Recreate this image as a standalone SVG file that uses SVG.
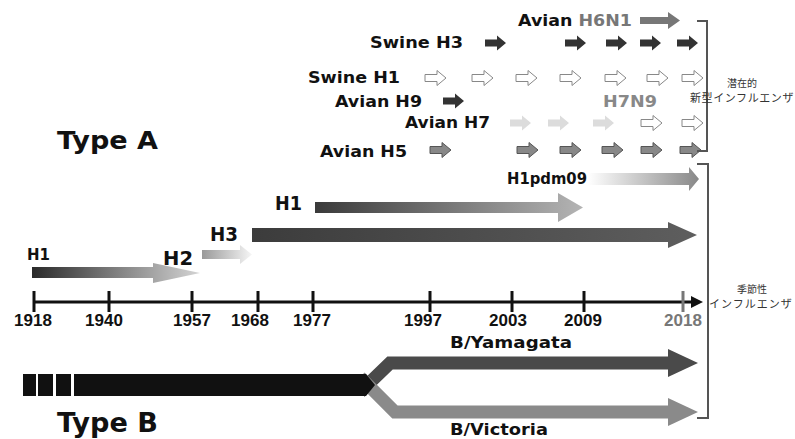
<svg xmlns="http://www.w3.org/2000/svg" xmlns:xlink="http://www.w3.org/1999/xlink" width="795" height="439" viewBox="0 0 795 439">
<style>
.lb{font-family:"DejaVu Sans","Liberation Sans",sans-serif;font-weight:bold;fill:#111}
.yr{font-family:"Liberation Sans",Arial,sans-serif;font-weight:bold;font-size:17px;fill:#111;text-anchor:middle}
.jp{font-family:"Noto Sans CJK JP","Noto Sans CJK SC",sans-serif;fill:#333}
.dk{fill:#333}
.ol{fill:#fff;stroke:#888;stroke-width:1}
.lt{fill:#dcdcdc}
.md{fill:#888;stroke:#555;stroke-width:1}
.br{fill:none;stroke:#555;stroke-width:2}
</style>
<defs>
<path id="sa" d="M0,-3.5 H12 V-7.5 L21,0 L12,7.5 V3.5 H0 Z"/>
<linearGradient id="g1"><stop offset="0" stop-color="#2a2a2a"/><stop offset="1" stop-color="#d4d4d4"/></linearGradient>
<linearGradient id="g2"><stop offset="0" stop-color="#999"/><stop offset="1" stop-color="#f6f6f6"/></linearGradient>
<linearGradient id="g3"><stop offset="0" stop-color="#3c3c3c"/><stop offset="1" stop-color="#5e5e5e"/></linearGradient>
<linearGradient id="g4"><stop offset="0" stop-color="#3a3a3a"/><stop offset="1" stop-color="#b4b4b4"/></linearGradient>
<linearGradient id="g5"><stop offset="0" stop-color="#fff"/><stop offset="1" stop-color="#888"/></linearGradient>
</defs>

<g id="titleA"><text class="lb" x="57" y="149" font-size="25" textLength="101" lengthAdjust="spacingAndGlyphs">Type A</text></g>
<g id="titleB"><text class="lb" x="57" y="432" font-size="26" textLength="101" lengthAdjust="spacingAndGlyphs">Type B</text></g>

<g id="avianH6N1">
<text class="lb" x="518" y="26" font-size="15" textLength="114" lengthAdjust="spacingAndGlyphs">Avian <tspan fill="#777">H6N1</tspan></text>
<path d="M640,17 H668 V12 L680,20.5 L668,29 V24 H640 Z" fill="#777"/>
</g>
<g id="swineH3">
<text class="lb" x="370" y="48" font-size="15" textLength="93" lengthAdjust="spacingAndGlyphs">Swine H3</text>
<use xlink:href="#sa" class="dk" x="485" y="43"/><use xlink:href="#sa" class="dk" x="565" y="43"/><use xlink:href="#sa" class="dk" x="606" y="43"/><use xlink:href="#sa" class="dk" x="640" y="43"/><use xlink:href="#sa" class="dk" x="677" y="43"/>
</g>
<g id="swineH1">
<text class="lb" x="308" y="83" font-size="15" textLength="92" lengthAdjust="spacingAndGlyphs">Swine H1</text>
<use xlink:href="#sa" class="ol" x="425" y="78"/><use xlink:href="#sa" class="ol" x="472" y="78"/><use xlink:href="#sa" class="ol" x="516" y="78"/><use xlink:href="#sa" class="ol" x="560" y="78"/><use xlink:href="#sa" class="ol" x="605" y="78"/><use xlink:href="#sa" class="ol" x="647" y="78"/><use xlink:href="#sa" class="ol" x="682" y="78"/>
</g>
<g id="avianH9">
<text class="lb" x="335" y="107" font-size="15" textLength="87" lengthAdjust="spacingAndGlyphs">Avian H9</text>
<use xlink:href="#sa" class="dk" x="443" y="101"/>
</g>
<g id="h7n9"><text class="lb" x="603" y="107" font-size="15" textLength="54" lengthAdjust="spacingAndGlyphs" style="fill:#888">H7N9</text></g>
<g id="avianH7">
<text class="lb" x="405" y="128" font-size="15" textLength="85" lengthAdjust="spacingAndGlyphs">Avian H7</text>
<use xlink:href="#sa" class="lt" x="510" y="123"/><use xlink:href="#sa" class="lt" x="548" y="123"/><use xlink:href="#sa" class="lt" x="593" y="123"/><use xlink:href="#sa" class="ol" x="641" y="123"/><use xlink:href="#sa" class="ol" x="682" y="123"/>
</g>
<g id="avianH5">
<text class="lb" x="320" y="157" font-size="15" textLength="87" lengthAdjust="spacingAndGlyphs">Avian H5</text>
<use xlink:href="#sa" class="md" x="430" y="150"/><use xlink:href="#sa" class="md" x="517" y="150"/><use xlink:href="#sa" class="md" x="560" y="150"/><use xlink:href="#sa" class="md" x="602" y="150"/><use xlink:href="#sa" class="md" x="641" y="150"/><use xlink:href="#sa" class="md" x="680" y="150"/>
</g>

<g id="h1pdm09">
<text class="lb" x="507" y="184" font-size="15" textLength="80" lengthAdjust="spacingAndGlyphs">H1pdm09</text>
<path d="M588,173 H689 V167 L699,179 L689,191 V185 H588 Z" fill="url(#g5)"/>
</g>
<g id="h1-1977">
<text class="lb" x="275" y="210" font-size="19" textLength="27" lengthAdjust="spacingAndGlyphs">H1</text>
<path d="M315,202 H558 V193 L583,207.5 L558,222 V213 H315 Z" fill="url(#g4)"/>
</g>
<g id="h3-1968">
<text class="lb" x="210" y="241" font-size="19" textLength="28" lengthAdjust="spacingAndGlyphs">H3</text>
<path d="M252,228 H668 V222 L697,235 L668,248 V242 H252 Z" fill="url(#g3)"/>
</g>
<g id="h2-1957">
<text class="lb" x="163" y="265" font-size="19" textLength="30" lengthAdjust="spacingAndGlyphs">H2</text>
<path d="M202,250 H240 V245 L252,254.5 L240,264 V259 H202 Z" fill="url(#g2)"/>
</g>
<g id="h1-1918">
<text class="lb" x="27" y="260" font-size="16" textLength="23" lengthAdjust="spacingAndGlyphs">H1</text>
<path d="M32,267 H153 V263 L200,273 L153,283 V278 H32 Z" fill="url(#g1)"/>
</g>

<g id="timeline">
<line x1="34" y1="302" x2="696" y2="302" stroke="#111" stroke-width="3"/>
<polygon points="691,296 703,302 691,308" fill="#111"/>
<g stroke="#111" stroke-width="3">
<line x1="34" y1="291" x2="34" y2="312"/><line x1="109" y1="291" x2="109" y2="312"/><line x1="192" y1="291" x2="192" y2="312"/><line x1="258" y1="291" x2="258" y2="312"/><line x1="313" y1="291" x2="313" y2="312"/><line x1="430" y1="291" x2="430" y2="312"/><line x1="512" y1="291" x2="512" y2="312"/><line x1="584" y1="291" x2="584" y2="312"/>
</g>
<line x1="683" y1="291" x2="683" y2="312" stroke="#777" stroke-width="3"/>
<text class="yr" x="33" y="326">1918</text><text class="yr" x="104" y="326">1940</text><text class="yr" x="192" y="326">1957</text><text class="yr" x="250" y="326">1968</text><text class="yr" x="312" y="326">1977</text><text class="yr" x="423" y="326">1997</text><text class="yr" x="508" y="326">2003</text><text class="yr" x="583" y="326">2009</text><text class="yr" x="683" y="326" style="fill:#777">2018</text>
</g>

<g id="typeB">
<polyline points="360,392 390,363 670,363" fill="none" stroke="#4a4a4a" stroke-width="13"/>
<polygon points="668,349 698,363 668,377" fill="#4a4a4a"/>
<polyline points="360,377 395,412 670,412" fill="none" stroke="#8a8a8a" stroke-width="13"/>
<polygon points="668,398 698,412 668,426" fill="#8a8a8a"/>
<g fill="#111">
<rect x="23" y="374" width="13" height="22"/><rect x="38" y="374" width="15" height="22"/><rect x="56" y="374" width="15" height="22"/>
<path d="M74,374 H366 L375,385 L366,396 H74 Z"/>
</g>
<text class="lb" x="450" y="348" font-size="15" textLength="122" lengthAdjust="spacingAndGlyphs">B/Yamagata</text>
<text class="lb" x="450" y="435" font-size="15" textLength="98" lengthAdjust="spacingAndGlyphs">B/Victoria</text>
</g>

<g id="brackets">
<path class="br" d="M697,21 H707 V151 H697"/>
<path class="br" d="M697,164 H708 V418 H697"/>
</g>
<g id="potential">
<text class="jp" x="727" y="87" font-size="10">潜在的</text>
<text class="jp" x="690" y="102" font-size="11" letter-spacing="0.6">新型インフルエンザ</text>
</g>
<g id="seasonal">
<text class="jp" x="737" y="293" font-size="10">季節性</text>
<text class="jp" x="709" y="308" font-size="11" letter-spacing="1">インフルエンザ</text>
</g>
</svg>
